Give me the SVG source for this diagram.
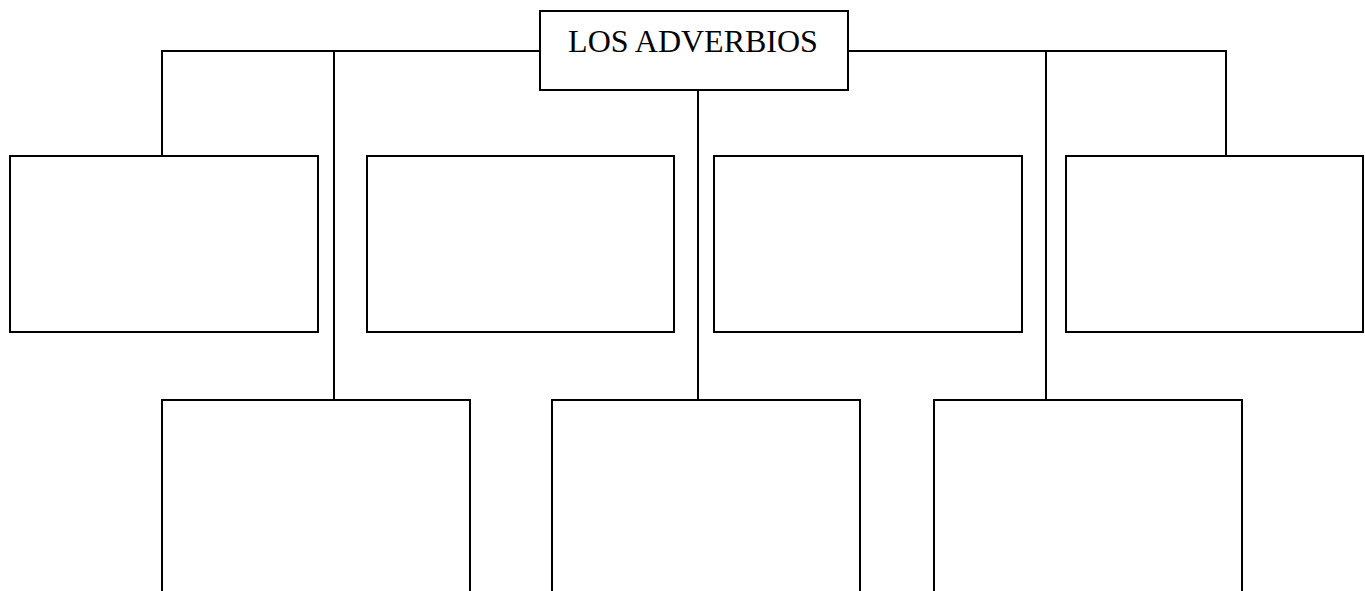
<svg xmlns="http://www.w3.org/2000/svg" width="1365" height="591" viewBox="0 0 1365 591">
<style>
.box{fill:#fff;stroke:#000;stroke-width:2}
.ln{fill:none;stroke:#000;stroke-width:2}
.t{font-family:"Liberation Serif","Times New Roman",serif;font-size:32px;fill:#000}
</style>
<rect width="1365" height="591" fill="#fff"/>
<g id="connectors">
<path class="ln" d="M162,156 V51 H540 M848,51 H1226 V156 M334,51 V400 M698,90 V400 M1046,51 V400"/>
</g>
<g id="root"><rect class="box" x="540" y="11" width="308" height="79"/><text class="t" x="693" y="52" text-anchor="middle">LOS ADVERBIOS</text></g>
<g id="n1"><rect class="box" x="10" y="156" width="308" height="176"/></g>
<g id="n2"><rect class="box" x="367" y="156" width="307" height="176"/></g>
<g id="n3"><rect class="box" x="714" y="156" width="308" height="176"/></g>
<g id="n4"><rect class="box" x="1066" y="156" width="297" height="176"/></g>
<g id="n5"><rect class="box" x="162" y="400" width="308" height="220"/></g>
<g id="n6"><rect class="box" x="552" y="400" width="308" height="220"/></g>
<g id="n7"><rect class="box" x="934" y="400" width="308" height="220"/></g>
</svg>
